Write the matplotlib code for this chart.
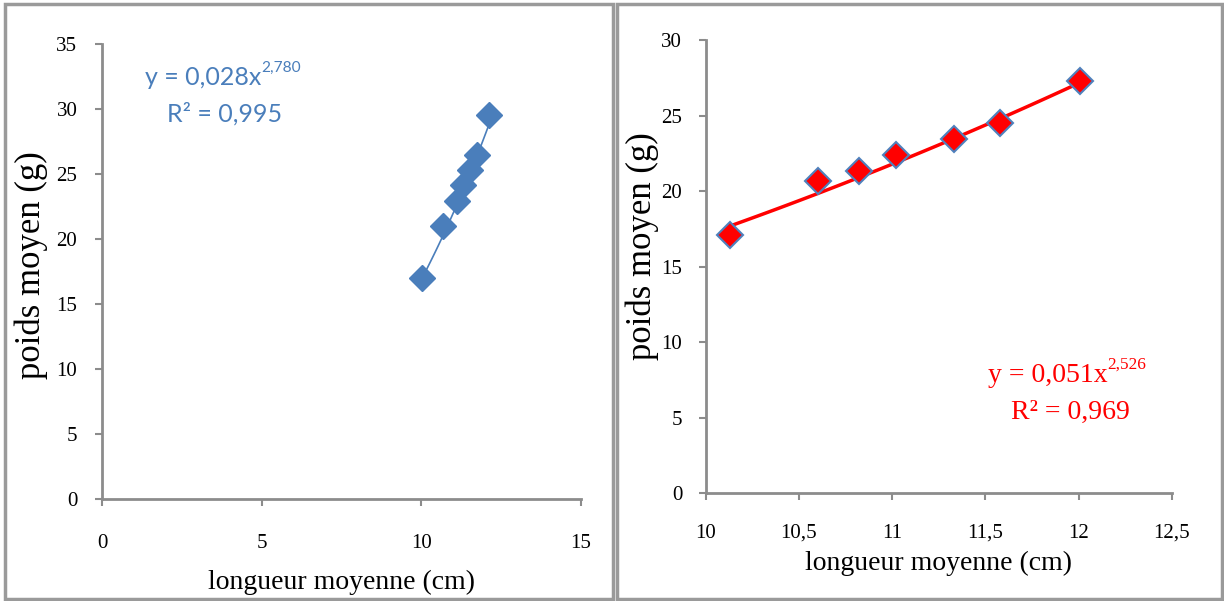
import numpy as np
import matplotlib.pyplot as plt
from matplotlib.patches import Rectangle

# left panel data
x_left = [10.01, 10.67, 11.11, 11.32, 11.53, 11.76, 12.13]
y_left = [16.99, 21.02, 22.94, 24.17, 25.33, 26.48, 29.56]
a_left, b_left = 0.028, 2.780

# right panel data
x_right = [10.13, 10.60, 10.82, 11.02, 11.33, 11.58, 12.01]
y_right = [17.09, 20.69, 21.35, 22.39, 23.43, 24.49, 27.29]
a_right, b_right = 0.051, 2.526

xticks_left = [0, 5, 10, 15]
yticks_left = [0, 5, 10, 15, 20, 25, 30, 35]
xticks_right = [10, 10.5, 11, 11.5, 12, 12.5]
yticks_right = [0, 5, 10, 15, 20, 25, 30]

serif = 'Liberation Serif'
grey = '#8c8c8c'
blue = '#4a7ebb'


def fmt(v):
    s = f"{v:g}"
    return s.replace('.', ',')


def style_axes(ax, xt, yt, xpad, ypad):
    for s in ['top', 'right']:
        ax.spines[s].set_visible(False)
    for s in ['left', 'bottom']:
        ax.spines[s].set_color(grey)
        ax.spines[s].set_linewidth(2)
    ax.set_xticks(xt)
    ax.set_yticks(yt)
    ax.set_xticklabels([fmt(v) for v in xt], family=serif, fontsize=15)
    ax.set_yticklabels([fmt(v) for v in yt], family=serif, fontsize=15)
    ax.tick_params(axis='x', direction='out', length=5, width=1.5, color=grey, pad=xpad)
    ax.tick_params(axis='y', direction='out', length=5, width=1.5, color=grey, pad=ypad)


def equation(ax, x, y, base, sup, color, family, size):
    # base text, then a smaller superscript hooked to its right edge
    t = ax.text(x, y, base, transform=ax.transAxes, color=color, family=family,
                fontsize=size, ha='left', va='baseline')
    ax.annotate(sup, xy=(1, 0.62), xycoords=t, color=color, family=family,
                fontsize=size * 0.62, ha='left', va='bottom')
    return t


fig = plt.figure(figsize=(12.24, 6.01), dpi=100, facecolor='w')

# panel borders
for x0, w in [(0.004, 0.497), (0.504, 0.494)]:
    fig.patches.append(Rectangle((x0, 0.004), w, 0.99, transform=fig.transFigure,
                                 fill=False, edgecolor='#9a9a9a', linewidth=2.5))

# left chart
ax1 = fig.add_axes([0.0836, 0.1697, 0.3908, 0.7566])
xs = np.linspace(min(x_left), max(x_left), 50)
ax1.plot(xs, a_left * xs ** b_left, color=blue, lw=1.2, zorder=2)
ax1.plot(x_left, y_left, 'D', ms=13, color=blue, mec=blue, zorder=3)
ax1.set_xlim(0, 15)
ax1.set_ylim(0, 35)
style_axes(ax1, xticks_left, yticks_left, 20, 13)
ax1.set_xlabel('longueur moyenne (cm)', family=serif, fontsize=20, labelpad=12)
ax1.set_ylabel('poids moyen (g)', family=serif, fontsize=25)
ax1.yaxis.set_label_coords(-0.113, 0.515)
equation(ax1, 0.09, 0.91, 'y = 0,028x', '2,780', blue, 'Lato', 18)
equation(ax1, 0.135, 0.83, 'R² = 0,995', '', blue, 'Lato', 18)

# right chart
ax2 = fig.add_axes([0.5766, 0.1792, 0.3807, 0.7542])
xs = np.linspace(min(x_right), max(x_right), 50)
ax2.plot(xs, a_right * xs ** b_right, color='#ff0000', lw=2.5, zorder=2)
ax2.plot(x_right, y_right, 'D', ms=13, color='#ff0000', mec='#4f81bd', mew=1.5, zorder=3)
ax2.set_xlim(10, 12.5)
ax2.set_ylim(0, 30)
style_axes(ax2, xticks_right, yticks_right, 17, 12)
ax2.set_xlabel('longueur moyenne (cm)', family=serif, fontsize=20, labelpad=6)
ax2.set_ylabel('poids moyen (g)', family=serif, fontsize=25)
ax2.yaxis.set_label_coords(-0.1, 0.546)
equation(ax2, 0.605, 0.245, 'y = 0,051x', '2,526', '#ff0000', serif, 20)
equation(ax2, 0.655, 0.165, 'R² = 0,969', '', '#ff0000', serif, 20)

fig.savefig('out.png', dpi=100, facecolor='w')
